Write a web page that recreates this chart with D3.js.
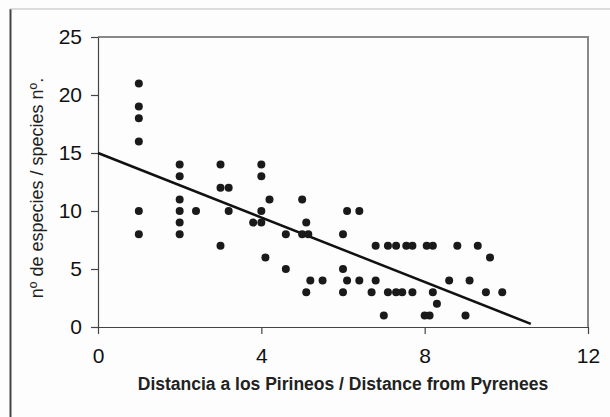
<!DOCTYPE html>
<html>
<head>
<meta charset="utf-8">
<script src="https://cdn.jsdelivr.net/npm/d3@7/dist/d3.min.js"></script>
<style>
  html, body { margin: 0; padding: 0; background: #fdfdfd; }
  svg { display: block; }
</style>
</head>
<body>
<script>
const distance = [1,1,1,1,1,1, 2,2,2,2,2,2, 2.4, 3,3,3, 3.2,3.2, 3.8, 4,4,4,4, 4.1, 4.2, 4.6,4.6, 5,5, 5.1,5.15,5.1, 5.2, 5.5, 6,6,6, 6.1,6.1, 6.4,6.4, 6.8,6.8, 6.7, 7.0, 7.1,7.1, 7.3,7.3, 7.45, 7.55, 7.7,7.7, 8.05,8.0, 8.12, 8.2,8.2, 8.3, 8.6, 8.8, 9.0, 9.1, 9.3, 9.5, 9.6, 9.9];
const species  = [21,19,18,16,10,8, 14,13,11,10,9,8, 10, 14,12,7, 12,10, 9, 14,13,10,9, 6, 11, 8,5, 11,8, 9,8,3, 4, 4, 8,5,3, 10,4, 10,4, 7,4, 3, 1, 7,3, 7,3, 3, 7, 7,3, 7,1, 1, 7,3, 2, 4, 7, 1, 4, 7, 3, 6, 3];
const xTicks = [0, 4, 8, 12];
const yTicks = [0, 5, 10, 15, 20, 25];
const fitIntercept = 15;
const fitSlope = -1.39;
const fitRange = [0, 10.6];
const xTitle = "Distancia a los Pirineos / Distance from Pyrenees";
const yTitle = "nº de especies / species nº.";

const W = 610, H = 417;
const m = {left: 98, right: 22, top: 37, bottom: 90};
const svg = d3.select("body").append("svg").attr("width", W).attr("height", H);

// outer frame
svg.append("line").attr("x1", 10.5).attr("x2", 10.5).attr("y1", 9).attr("y2", H)
  .attr("stroke", "#444").attr("stroke-width", 2);
svg.append("line").attr("x1", 10).attr("x2", W).attr("y1", 9).attr("y2", 9)
  .attr("stroke", "#bbb").attr("stroke-width", 1);

const x = d3.scaleLinear().domain([0, 12]).range([m.left, W - m.right]);
const y = d3.scaleLinear().domain([0, 25]).range([H - m.bottom, m.top]);

// plot border top/right
svg.append("path")
  .attr("d", `M${x(0)},${y(25)}H${x(12)}V${y(0)}`)
  .attr("fill", "none").attr("stroke", "#888").attr("stroke-width", 2);

const fontTick = "'Liberation Sans', Arial, sans-serif";

const xAxis = svg.append("g").attr("transform", `translate(0,${y(0)})`)
  .call(d3.axisBottom(x).tickValues(xTicks).tickSize(7).tickSizeOuter(0).tickPadding(14));
const yAxis = svg.append("g").attr("transform", `translate(${x(0)},0)`)
  .call(d3.axisLeft(y).tickValues(yTicks).tickSize(7).tickSizeOuter(0).tickPadding(9));
[xAxis, yAxis].forEach(g => {
  g.select(".domain").attr("stroke", "#444").attr("stroke-width", 1.2);
  g.selectAll(".tick line").attr("stroke", "#444").attr("stroke-width", 1.2);
  g.selectAll(".tick text").attr("fill", "#111").style("font-family", fontTick).style("font-size", "21px");
});

// regression line
svg.append("line")
  .attr("x1", x(fitRange[0])).attr("y1", y(fitIntercept + fitSlope * fitRange[0]))
  .attr("x2", x(fitRange[1])).attr("y2", y(fitIntercept + fitSlope * fitRange[1]))
  .attr("stroke", "#111").attr("stroke-width", 2.5);

// points
svg.append("g").selectAll("circle").data(distance.map((d, i) => [d, species[i]]))
  .join("circle")
  .attr("cx", d => x(d[0])).attr("cy", d => y(d[1])).attr("r", 4)
  .attr("fill", "#1a1a1a");

// titles
svg.append("text").attr("x", (x(0) + x(12)) / 2).attr("y", 390)
  .attr("text-anchor", "middle").attr("fill", "#222")
  .style("font-family", fontTick).style("font-size", "17.5px").style("font-weight", "bold")
  .text(xTitle);
svg.append("text")
  .attr("transform", `translate(43,188) rotate(-90)`)
  .attr("text-anchor", "middle").attr("fill", "#222")
  .style("font-family", fontTick).style("font-size", "18px")
  .text(yTitle);
</script>
</body>
</html>
